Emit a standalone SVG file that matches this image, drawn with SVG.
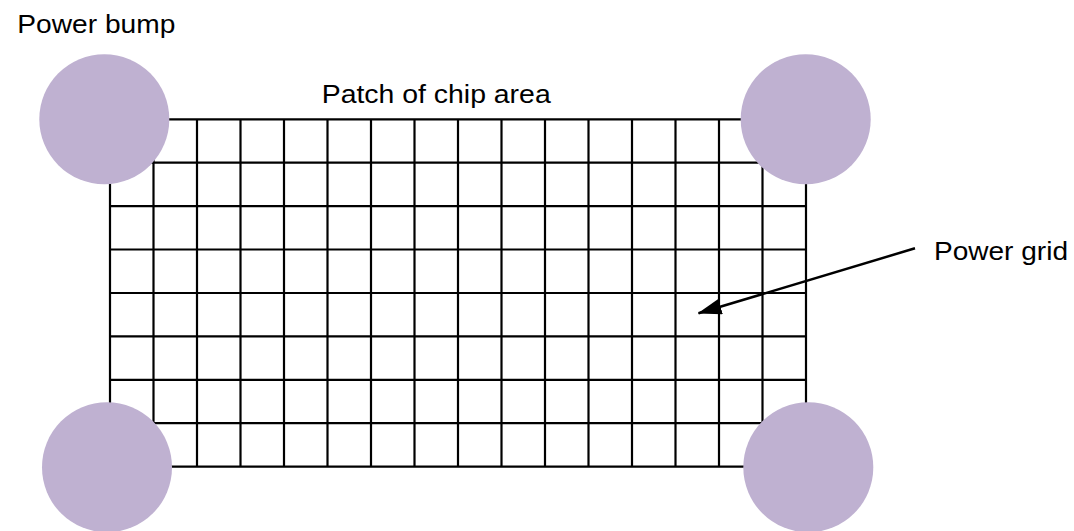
<svg xmlns="http://www.w3.org/2000/svg" width="1074" height="531" viewBox="0 0 1074 531">
<defs>
<style>
.lbl{font-family:"Liberation Sans",Arial,sans-serif;font-size:26px;fill:#000}
.grid line{stroke:#000;stroke-width:2.2}
.bump{fill:#bfb1d1}
</style>
<marker id="ah" markerWidth="24" markerHeight="16" refX="23" refY="8" orient="auto" markerUnits="userSpaceOnUse" viewBox="0 0 24 16">
<path d="M0,0 L24,8 L0,16 Z" fill="#000"/>
</marker>
</defs>
<rect width="1074" height="531" fill="#fff"/>
<g id="power-grid" class="grid">
<line x1="110" y1="119.3" x2="110" y2="466.7"/>
<line x1="153.5" y1="119.3" x2="153.5" y2="466.7"/>
<line x1="197" y1="119.3" x2="197" y2="466.7"/>
<line x1="240.5" y1="119.3" x2="240.5" y2="466.7"/>
<line x1="284" y1="119.3" x2="284" y2="466.7"/>
<line x1="327.5" y1="119.3" x2="327.5" y2="466.7"/>
<line x1="371" y1="119.3" x2="371" y2="466.7"/>
<line x1="414.5" y1="119.3" x2="414.5" y2="466.7"/>
<line x1="458" y1="119.3" x2="458" y2="466.7"/>
<line x1="501.5" y1="119.3" x2="501.5" y2="466.7"/>
<line x1="545" y1="119.3" x2="545" y2="466.7"/>
<line x1="588.5" y1="119.3" x2="588.5" y2="466.7"/>
<line x1="632" y1="119.3" x2="632" y2="466.7"/>
<line x1="675.5" y1="119.3" x2="675.5" y2="466.7"/>
<line x1="719" y1="119.3" x2="719" y2="466.7"/>
<line x1="762.5" y1="119.3" x2="762.5" y2="466.7"/>
<line x1="806" y1="119.3" x2="806" y2="466.7"/>
<line x1="110" y1="119.3" x2="806" y2="119.3"/>
<line x1="110" y1="162.7" x2="806" y2="162.7"/>
<line x1="110" y1="206.1" x2="806" y2="206.1"/>
<line x1="110" y1="249.5" x2="806" y2="249.5"/>
<line x1="110" y1="293" x2="806" y2="293"/>
<line x1="110" y1="336.4" x2="806" y2="336.4"/>
<line x1="110" y1="379.8" x2="806" y2="379.8"/>
<line x1="110" y1="423.2" x2="806" y2="423.2"/>
<line x1="110" y1="466.7" x2="806" y2="466.7"/>
</g>
<g id="bump-tl"><circle class="bump" cx="104.3" cy="119.2" r="65"/></g>
<g id="bump-tr"><circle class="bump" cx="805.7" cy="119.2" r="65"/></g>
<g id="bump-bl"><circle class="bump" cx="107" cy="467.3" r="65"/></g>
<g id="bump-br"><circle class="bump" cx="808.3" cy="467.3" r="65"/></g>
<g id="labels">
<text class="lbl" x="17.3" y="33.3" textLength="158" lengthAdjust="spacingAndGlyphs">Power bump</text>
<text class="lbl" x="321.7" y="103.3" textLength="229" lengthAdjust="spacingAndGlyphs">Patch of chip area</text>
<text class="lbl" x="934" y="260" textLength="134" lengthAdjust="spacingAndGlyphs">Power grid</text>
</g>
<g id="connectors">
<line x1="915" y1="248.3" x2="698.5" y2="313.3" stroke="#000" stroke-width="2.5" marker-end="url(#ah)"/>
</g>
</svg>
